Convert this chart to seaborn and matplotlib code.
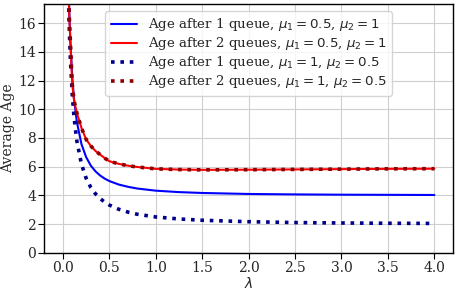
import matplotlib
matplotlib.use("Agg")
import matplotlib.pyplot as plt
import seaborn as sns
import numpy as np

# Arrival rate values (x axis)
lam = [0.05, 0.06, 0.07, 0.08, 0.1, 0.12, 0.15, 0.2, 0.25, 0.3, 0.35, 0.4, 0.45, 0.5,
       0.6, 0.7, 0.8, 1.0, 1.25, 1.5, 2.0, 2.5, 3.0, 3.5, 4.0]

# Age after 1 queue, mu1=0.5, mu2=1
age1_a = [22.2, 18.9, 16.5, 14.8, 12.3, 10.7, 9.13, 7.57, 6.67, 6.08, 5.68, 5.39, 5.17, 5.0,
          4.76, 4.60, 4.48, 4.33, 4.23, 4.17, 4.10, 4.07, 4.05, 4.04, 4.03]
# Age after 2 queues, mu1=0.5, mu2=1
age2_a = [22.0, 18.5, 16.3, 14.8, 11.8, 10.6, 9.75, 8.7, 7.9, 7.45, 7.1, 6.85, 6.6, 6.38,
          6.2, 6.07, 5.98, 5.85, 5.8, 5.78, 5.79, 5.81, 5.83, 5.85, 5.86]
# Age after 1 queue, mu1=1, mu2=0.5
age1_b = [21.05, 17.7, 15.35, 13.57, 11.09, 9.44, 7.80, 6.17, 5.2, 4.56, 4.12, 3.79, 3.53, 3.33,
          3.04, 2.84, 2.69, 2.5, 2.36, 2.27, 2.17, 2.11, 2.08, 2.06, 2.05]
# Age after 2 queues, mu1=1, mu2=0.5
age2_b = [22.0, 18.5, 16.3, 14.8, 11.8, 10.6, 9.75, 8.7, 7.9, 7.45, 7.1, 6.85, 6.6, 6.38,
          6.2, 6.07, 5.98, 5.85, 5.8, 5.78, 5.79, 5.81, 5.83, 5.85, 5.86]

xticks = [0.0, 0.5, 1.0, 1.5, 2.0, 2.5, 3.0, 3.5, 4.0]
yticks = [0, 2, 4, 6, 8, 10, 12, 14, 16]

labels = [r"Age after 1 queue, $\mu_1 = 0.5$, $\mu_2 = 1$",
          r"Age after 2 queues, $\mu_1 = 0.5$, $\mu_2 = 1$",
          r"Age after 1 queue, $\mu_1 = 1$, $\mu_2 = 0.5$",
          r"Age after 2 queues, $\mu_1 = 1$, $\mu_2 = 0.5$"]

sns.set_style("whitegrid", {"axes.edgecolor": "black", "grid.color": "#cfcfcf",
                            "xtick.bottom": True, "ytick.left": True})
plt.rcParams["font.family"] = ["DejaVu Serif"]
plt.rcParams["mathtext.fontset"] = "dejavusans"
plt.rcParams["font.size"] = 10

fig, ax = plt.subplots(figsize=(4.57, 2.93), dpi=100)
fig.subplots_adjust(left=0.097, right=0.991, top=0.985, bottom=0.137)

sns.lineplot(x=lam, y=age1_a, ax=ax, color="blue", lw=1.5, label=labels[0], sort=False)
sns.lineplot(x=lam, y=age2_a, ax=ax, color="red", lw=1.5, label=labels[1], sort=False)
sns.lineplot(x=lam, y=age1_b, ax=ax, color="#00008b", lw=2.6, label=labels[2], sort=False)
sns.lineplot(x=lam, y=age2_b, ax=ax, color="#8b0000", lw=2.6, label=labels[3], sort=False)
lines = ax.get_lines()
for ln in lines[2:4]:
    ln.set_dashes((1, 1.6))
    ln.set_dash_capstyle("butt")

ax.set_xlim(-0.2, 4.2)
ax.set_ylim(0, 17.3)
ax.set_xticks(xticks)
ax.set_yticks(yticks)
ax.tick_params(axis="both", labelsize=10, length=4, color="black", direction="out", pad=2)
ax.set_xlabel(r"$\lambda$", fontsize=10, labelpad=0.5)
ax.set_ylabel("Average Age", fontsize=10, labelpad=2)
for s in ax.spines.values():
    s.set_color("black")
    s.set_linewidth(1.0)

leg = ax.legend(loc="upper center", fontsize=9.6, frameon=True, handlelength=2.0,
                borderaxespad=0.5, labelspacing=0.15, borderpad=0.4)
for h in leg.get_lines()[2:4]:
    h.set_dashes((1, 1.6))

fig.savefig("out.png", dpi=100)
